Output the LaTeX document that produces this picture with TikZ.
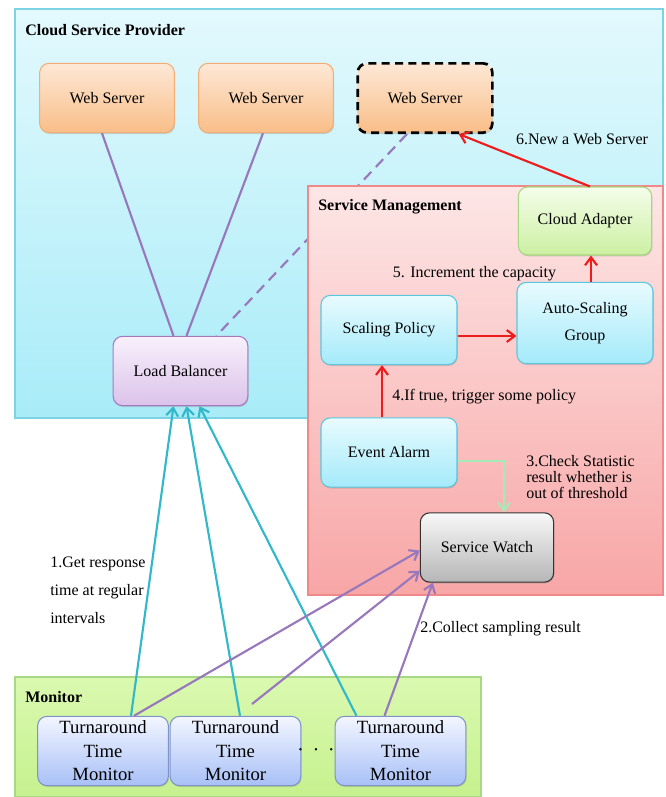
\documentclass[tikz,border=0pt]{standalone}
\usepackage{fontspec}
\setmainfont{Liberation Serif}
\usetikzlibrary{arrows.meta, calc, shadows}

\definecolor{cloudTop}{HTML}{E3F9FD}
\definecolor{cloudBot}{HTML}{A8ECF8}
\definecolor{cloudLine}{HTML}{7CD3E3}
\definecolor{mgmtTop}{HTML}{FDE6E6}
\definecolor{mgmtBot}{HTML}{F8A6A6}
\definecolor{mgmtLine}{HTML}{EE8A8A}
\definecolor{monTop}{HTML}{DAF9B0}
\definecolor{monBot}{HTML}{C6F18E}
\definecolor{monLine}{HTML}{A6D886}
\definecolor{wsTop}{HTML}{FDE8D6}
\definecolor{wsBot}{HTML}{F9BE88}
\definecolor{wsLine}{HTML}{F2AE74}
\definecolor{caTop}{HTML}{F4FDEA}
\definecolor{caBot}{HTML}{CCF0A2}
\definecolor{caLine}{HTML}{A4D77E}
\definecolor{cyTop}{HTML}{E8FBFE}
\definecolor{cyBot}{HTML}{A4EAFA}
\definecolor{cyLine}{HTML}{5CC6DC}
\definecolor{lbTop}{HTML}{F8F0FB}
\definecolor{lbBot}{HTML}{DBC2EA}
\definecolor{lbLine}{HTML}{A878BF}
\definecolor{swTop}{HTML}{F8F8F8}
\definecolor{swBot}{HTML}{B6B6B6}
\definecolor{swLine}{HTML}{333333}
\definecolor{tmTop}{HTML}{F3F6FF}
\definecolor{tmBot}{HTML}{A8C0F7}
\definecolor{tmLine}{HTML}{7E94C8}
\definecolor{linkPurple}{HTML}{9878BC}
\definecolor{linkCyan}{HTML}{33B8C9}
\definecolor{linkRed}{HTML}{F01C1C}
\definecolor{linkGreen}{HTML}{A6EAB8}

\begin{document}
\begin{tikzpicture}[
    x=0.75pt, y=-0.75pt,
    font=\fontsize{12}{14}\selectfont,
    box/.style={
        rectangle, rounded corners=7pt, line width=0.8pt,
        align=center, inner sep=2pt,
        drop shadow={opacity=0.3, shadow xshift=0.6pt, shadow yshift=-1pt}
    },
    webserver/.style={box, draw=wsLine, top color=wsTop, bottom color=wsBot,
        minimum width=101pt, minimum height=52pt},
    service/.style={box, draw=cyLine, top color=cyTop, bottom color=cyBot,
        minimum width=102pt, minimum height=52pt},
    adapter/.style={box, draw=caLine, top color=caTop, bottom color=caBot,
        minimum width=100pt, minimum height=51pt},
    balancer/.style={box, draw=lbLine, top color=lbTop, bottom color=lbBot,
        minimum width=101pt, minimum height=52pt},
    watch/.style={box, draw=swLine, top color=swTop, bottom color=swBot,
        minimum width=100pt, minimum height=52pt},
    turnaround/.style={box, draw=tmLine, top color=tmTop, bottom color=tmBot,
        minimum width=98pt, minimum height=52pt, inner sep=0pt,
        font=\fontsize{14}{17.6}\selectfont},
    container/.style={line width=0.8pt},
    title/.style={inner sep=0pt, anchor=west, font=\fontsize{12}{14}\selectfont\bfseries},
    label/.style={inner sep=0pt, align=left},
    link/.style={draw=linkPurple, line width=1.6pt},
    flow/.style={line width=1.6pt, -{Straight Barb[length=6pt, width=9pt]}}
]
\useasboundingbox (0,0) rectangle (665,797);

% -------------------------
% 1. Cloud Service Provider
% -------------------------
\draw[container, draw=cloudLine, top color=cloudTop, bottom color=cloudBot] (15,9) rectangle (663,418);
\node[title] (CloudTitle) at (25,30) {Cloud Service Provider};

\node[webserver] (WebServer1) at (107,98) {Web Server};
\node[webserver] (WebServer2) at (266,98) {Web Server};
\node[webserver, draw=black, line width=2pt, dash pattern=on 6pt off 4pt] (WebServer3) at (425,98) {Web Server};
\node[balancer] (LoadBalancer) at (180.5,371) {Load Balancer};

\draw[link] ($(WebServer1.south)+(-5,0)$) -- ($(LoadBalancer.north)+(-7,0)$);
\draw[link] ($(WebServer2.south)+(-3,0)$) -- ($(LoadBalancer.north)+(6,0)$);
\draw[link, dash pattern=on 8pt off 5pt] ($(WebServer3.south)+(-18,0)$) -- ($(LoadBalancer.north east)+(-32,0)$);

% -------------------------
% 2. Service Management
% -------------------------
\draw[container, draw=mgmtLine, top color=mgmtTop, bottom color=mgmtBot] (308,186) rectangle (663,595);
\node[title] (MgmtTitle) at (318,207) {Service Management};

\node[adapter] (CloudAdapter) at (585,221) {Cloud Adapter};
\node[service] (ScalingPolicy) at (389,330) {Scaling Policy};
\node[service, minimum height=61pt, font=\fontsize{12}{20}\selectfont] (AutoScaling) at (585,323) {Auto-Scaling\\Group};
\node[service] (EventAlarm) at (389,452.5) {Event Alarm};
\node[watch] (ServiceWatch) at (487,547.5) {Service Watch};

% -------------------------
% 3. Monitor
% -------------------------
\draw[container, draw=monLine, top color=monTop, bottom color=monBot] (15,677) rectangle (481,797);
\node[title] (MonitorTitle) at (25,697) {Monitor};

\node[turnaround] (Monitor1) at (103,751) {Turnaround\\Time\\Monitor};
\node[turnaround] (Monitor2) at (235.5,751) {Turnaround\\Time\\Monitor};
\node[turnaround] (Monitor3) at (400.5,751) {Turnaround\\Time\\Monitor};
\node[font=\fontsize{16}{18}\selectfont] (Dots) at (316,750) {$\cdot\,\cdot\,\cdot$};
\coordinate (Monitor2Tail) at (252,704);

% -------------------------
% FLOWS
% -------------------------
% 1. response time
\draw[flow, draw=linkCyan] ($(Monitor1.north)+(28,0)$) -- ($(LoadBalancer.south)+(-7,0)$);
\draw[flow, draw=linkCyan] ($(Monitor2.north)+(4.5,0)$) -- ($(LoadBalancer.south)+(6,0)$);
\draw[flow, draw=linkCyan] ($(Monitor3.north)+(-44,0)$) -- ($(LoadBalancer.south)+(19,0)$);
\node[label, anchor=west, font=\fontsize{12}{21}\selectfont] (Lbl1) at (50,590) {1.Get response\\time at regular\\intervals};

% 2. sampling result
\draw[flow, draw=linkPurple] ($(Monitor1.north)+(31,0)$) -- ($(ServiceWatch.west)+(0,3)$);
\draw[flow, draw=linkPurple] (Monitor2Tail) -- ($(ServiceWatch.south west)+(0,-12)$);
\draw[flow, draw=linkPurple] ($(Monitor3.north)+(-16,0)$) -- ($(ServiceWatch.south west)+(13,0)$);
\node[label, anchor=west] (Lbl2) at (420,629) {2.Collect sampling result};

% 3. threshold check
\draw[flow, draw=linkGreen] ($(EventAlarm.east)+(0,8.5)$) -| ($(ServiceWatch.north)+(17,0)$);
\node[label, anchor=west, font=\fontsize{12}{11.8}\selectfont] (Lbl3) at (526,477) {3.Check Statistic\\result whether is\\out of threshold};

% 4. trigger policy
\draw[flow, draw=linkRed] ($(EventAlarm.north)+(-7,0)$) -- ($(ScalingPolicy.south)+(-7,0)$);
\node[label, anchor=west] (Lbl4) at (392,397) {4.If true, trigger some policy};

% 5. capacity
\draw[flow, draw=linkRed] ($(ScalingPolicy.east)+(0,6)$) -- ($(AutoScaling.west)+(0,13)$);
\draw[flow, draw=linkRed] ($(AutoScaling.north)+(6,0)$) -- ($(CloudAdapter.south)+(6,0)$);
\node[label] (Lbl5) at (474.5,274) {5. Increment the capacity};

% 6. new web server
\draw[flow, draw=linkRed] ($(CloudAdapter.north)+(5,0)$) -- ($(WebServer3.south east)+(-35,0)$);
\node[label] (Lbl6) at (582,139) {6.New a Web Server};

\end{tikzpicture}
\end{document}
